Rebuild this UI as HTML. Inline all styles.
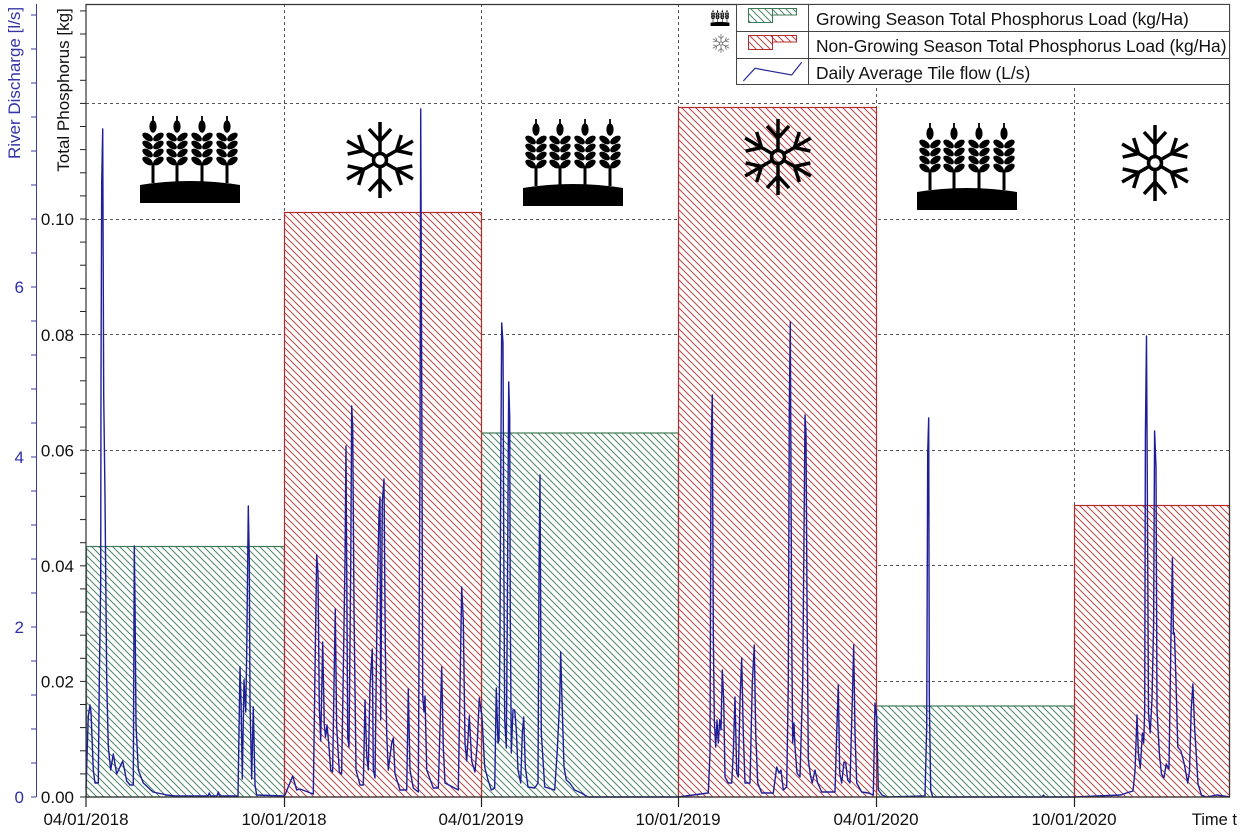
<!DOCTYPE html>
<html>
<head>
<meta charset="utf-8">
<style>
  html,body{margin:0;padding:0;background:#fff;}
  svg{display:block;}
  text{font-family:"Liberation Sans",Arial,sans-serif;}
</style>
</head>
<body>
<svg xmlns="http://www.w3.org/2000/svg" width="1245" height="835" viewBox="0 0 1245 835">
  <defs>
    <pattern id="hg" width="7" height="7" patternUnits="userSpaceOnUse">
      <rect width="7" height="7" fill="#fff"/>
      <path d="M-1,-1 L8,8 M-1,6 L1,8 M6,-1 L8,1" stroke="#4f8868" stroke-width="1"/>
    </pattern>
    <pattern id="hr" width="7" height="7" patternUnits="userSpaceOnUse">
      <rect width="7" height="7" fill="#fff"/>
      <path d="M-1,-1 L8,8 M-1,6 L1,8 M6,-1 L8,1" stroke="#b84848" stroke-width="1"/>
    </pattern>
    <symbol id="wheat" viewBox="0 0 100 90">
      <path d="M0,90 L0,72 Q50,64 100,72 L100,90 Z" fill="#000"/>
      <g id="ear" fill="#000">
        <path d="M13,3 L13,9" stroke="#000" stroke-width="1.8"/>
        <ellipse cx="13" cy="13.5" rx="3.6" ry="6.2"/>
        <ellipse cx="7.6" cy="24" rx="6" ry="3.3" transform="rotate(35 7.6 24)"/>
        <ellipse cx="18.4" cy="24" rx="6" ry="3.3" transform="rotate(-35 18.4 24)"/>
        <ellipse cx="7.6" cy="32" rx="6" ry="3.3" transform="rotate(35 7.6 32)"/>
        <ellipse cx="18.4" cy="32" rx="6" ry="3.3" transform="rotate(-35 18.4 32)"/>
        <ellipse cx="7.6" cy="40" rx="6" ry="3.3" transform="rotate(35 7.6 40)"/>
        <ellipse cx="18.4" cy="40" rx="6" ry="3.3" transform="rotate(-35 18.4 40)"/>
        <ellipse cx="7.6" cy="48" rx="6" ry="3.3" transform="rotate(35 7.6 48)"/>
        <ellipse cx="18.4" cy="48" rx="6" ry="3.3" transform="rotate(-35 18.4 48)"/>
        <rect x="11.5" y="50" width="3" height="20"/>
      </g>
      <use href="#ear" x="24"/>
      <use href="#ear" x="49"/>
      <use href="#ear" x="74"/>
    </symbol>
    <symbol id="snow" viewBox="-40 -40 80 80">
      <g stroke="currentColor" stroke-width="3.5" fill="none">
        <circle cx="0" cy="0" r="6.5"/>
        <g id="arm">
          <path d="M0,-6.5 L0,-38 M0,-19 L-11,-31 M0,-19 L11,-31"/>
        </g>
        <use href="#arm" transform="rotate(60)"/>
        <use href="#arm" transform="rotate(120)"/>
        <use href="#arm" transform="rotate(180)"/>
        <use href="#arm" transform="rotate(240)"/>
        <use href="#arm" transform="rotate(300)"/>
      </g>
    </symbol>
  </defs>

  <rect width="1245" height="835" fill="#fff"/>

  <!-- grid -->
  <g stroke="#555" stroke-width="1" stroke-dasharray="3,3">
    <line x1="86" y1="681.5" x2="1230" y2="681.5"/>
    <line x1="86" y1="565.5" x2="1230" y2="565.5"/>
    <line x1="86" y1="450.5" x2="1230" y2="450.5"/>
    <line x1="86" y1="334.5" x2="1230" y2="334.5"/>
    <line x1="86" y1="219.5" x2="1230" y2="219.5"/>
    <line x1="86" y1="103.5" x2="1230" y2="103.5"/>
    <line x1="284.5" y1="4" x2="284.5" y2="797"/>
    <line x1="481.5" y1="4" x2="481.5" y2="797"/>
    <line x1="678.5" y1="4" x2="678.5" y2="797"/>
    <line x1="876.5" y1="4" x2="876.5" y2="797"/>
    <line x1="1074.5" y1="4" x2="1074.5" y2="797"/>
  </g>

  <!-- bars -->
  <g stroke-width="1.2">
    <rect x="86.5" y="546.5" width="198" height="250.5" fill="url(#hg)" stroke="#3f7a5a"/>
    <rect x="481.5" y="433" width="197" height="364" fill="url(#hg)" stroke="#3f7a5a"/>
    <rect x="876.5" y="706" width="198" height="91" fill="url(#hg)" stroke="#3f7a5a"/>
    <rect x="284.5" y="212.5" width="197" height="584.5" fill="url(#hr)" stroke="#b52a2a"/>
    <rect x="678.5" y="107.5" width="198" height="689.5" fill="url(#hr)" stroke="#b52a2a"/>
    <rect x="1074.5" y="505.5" width="155" height="291.5" fill="url(#hr)" stroke="#b52a2a"/>
  </g>

  <!-- icons -->
  <use href="#wheat" x="140" y="113" width="100" height="90"/>
  <use href="#wheat" x="523" y="116" width="100" height="90"/>
  <use href="#wheat" x="917" y="120" width="100" height="90"/>
  <use href="#snow" x="340" y="120" width="80" height="80" style="color:#000"/>
  <use href="#snow" x="738" y="117" width="80" height="80" style="color:#000"/>
  <use href="#snow" x="1115" y="123" width="80" height="80" style="color:#000"/>

  <!-- series -->
  <polyline fill="none" stroke="#1e1e98" stroke-width="1.4" stroke-linejoin="round" points="
86,788 88.3,716 90,705 91,712 93.3,770 95,783 98.3,783 99.3,680 100.7,580 101,379 101.7,183 102.7,129 103.7,395 105,497 106.7,680 108.3,747 110.7,770 113.3,754 116.7,774 122.7,761 126.7,781 130,785 133.3,785 134.3,546 135,600 136,725 138.3,770 143.3,783 153,792 166.7,795 175,796 208,796 209.3,793 210.5,796 217,796 218.3,792 219.5,796 238,796 240,667 241,700 242.3,779 244,680 245.7,712 246.7,653 248.3,506 249.3,560 250,703 251.7,779 253.3,707 255,785 256.7,795 284,796
285,795 292.7,776 296.7,790 300,789 313.3,794 315,671 316.7,555 318,573 319.3,707 320.7,741 322.7,642 324.3,725 325.6,737 327,725 328.7,743 330.7,770 332.6,772 334.3,667 335.3,609 336.6,725 339.3,772 341.6,774 343.3,671 345,562 346,446 347.7,738 349,747 350.7,569 351.7,406 352.7,426 354,609 356,770 360,785 363.3,785 365,700 366.7,756 368.3,770 370,685 372.3,649 373.3,770 375,778 377.3,591 379,513 380,497 380.7,720 382.3,502 384,479 385.3,645 386.7,734 388.3,770 391.7,743 393.3,738 395,774 400,790 406.7,790 408.3,689 410,770 413.3,788 418.3,792 420,457 420.7,109 421.3,270 422,457 422.7,696 424,712 425,696 426.7,770 433.3,788 438.3,788 441.7,667 443.3,747 445,783 458.3,790 461.7,587 463.3,620 465,743 466.7,761 469.3,716 471.7,761 475,772 477.3,743 479.3,698 481,710
482,717 484.7,767 488,780 491.3,790 494.7,788 496.3,688 498,743 499,740 500,627 500.7,483 501.7,323 503,343 503.7,533 504.7,720 506.3,748 507.3,617 508.7,382 509.7,417 510.3,617 511.3,753 513,710 514.7,710 516.3,730 518,770 520.7,783 522.3,733 523.7,717 525.3,767 528,787 534.7,788 538,783 539,570 540,475 541.3,733 544.7,787 554.7,790 557.3,750 559.7,700 560.7,652 562,700 564,767 566.3,780 569.7,783 574.7,790 581.3,793 588,797 678,797
708.3,793 710,753 711,450 712.3,395 713.3,633 714.3,720 715.7,747 717,720 718.3,743 719.7,720 721,730 722.3,670 723.7,700 725,777 728.3,783 731.7,783 733.3,753 735,697 736.7,773 738.3,777 740,700 741.7,658 743.3,733 745,783 750,783 752.3,683 754.3,645 755.7,733 757.7,783 761.7,793 773.3,793 776.7,767 779,773 781,770 783.3,790 786.7,787 788.3,683 789.3,407 790.3,322 791.7,633 792.7,743 794,723 795,747 797,773 800,777 802.7,683 804.3,500 805,415 806,433 807,600 808.3,760 810.7,777 812.3,783 815,770 817.7,783 821.7,792 835,792 836.7,733 838.3,685 839.7,773 841.7,783 844,762 845.7,763 847.7,780 850,783 852.3,700 853.7,645 855,733 856.7,783 861.7,792 868.3,793 873.3,795 875,703 876.7,717
878.3,790 882,795 886.7,797 925,796 926.7,727 927.7,453 928.7,418 929.3,697 930.7,790 932.7,797 1042,797 1043.5,795 1045,797 1074,797
1121,795 1126.3,793 1133,791 1135,771 1137,715 1138.4,754 1140.3,768 1142.4,733 1143.7,743 1144.7,710 1145.4,435 1146.5,336 1147.5,522 1148.5,713 1150.2,733 1152,699 1153.6,624 1154.6,431 1156,467 1157,710 1159.4,754 1161.5,774 1163.9,778 1166.2,764 1169,769 1171,634 1172.4,558 1173.4,634 1174.4,633 1175.8,675 1177.8,747 1181,751 1184.3,764 1187.7,783 1189.5,771 1191.2,710 1192.9,684 1194.6,727 1198,784 1201.4,795 1206.5,797 1216.8,795 1230,797"/>

  <!-- plot frame -->
  <g stroke="#333" stroke-width="1.2" fill="none">
    <line x1="86" y1="4.5" x2="1230" y2="4.5"/>
    <line x1="1229.5" y1="4" x2="1229.5" y2="797"/>
    <line x1="86" y1="797" x2="1230" y2="797"/>
    <line x1="86" y1="4" x2="86" y2="797"/>
  </g>

  <!-- x ticks -->
  <g stroke="#222" stroke-width="1.2">
    <line x1="86" y1="797" x2="86" y2="807"/>
    <line x1="284.5" y1="797" x2="284.5" y2="807"/>
    <line x1="481.5" y1="797" x2="481.5" y2="807"/>
    <line x1="678.5" y1="797" x2="678.5" y2="807"/>
    <line x1="876.5" y1="797" x2="876.5" y2="807"/>
    <line x1="1074.5" y1="797" x2="1074.5" y2="807"/>
  </g>
  <g font-size="17" fill="#111" text-anchor="middle">
    <text x="86" y="825">04/01/2018</text>
    <text x="284" y="825">10/01/2018</text>
    <text x="481" y="825">04/01/2019</text>
    <text x="678" y="825">10/01/2019</text>
    <text x="876" y="825">04/01/2020</text>
    <text x="1074" y="825">10/01/2020</text>
  </g>
  <text x="1237" y="825" font-size="16.5" fill="#111" text-anchor="end">Time t</text>

  <!-- black left axis ticks -->
  <g stroke="#222" stroke-width="1">
    <line x1="80" y1="797" x2="86" y2="797"/>
    <line x1="80" y1="773.9" x2="86" y2="773.9"/>
    <line x1="80" y1="750.8" x2="86" y2="750.8"/>
    <line x1="80" y1="727.6" x2="86" y2="727.6"/>
    <line x1="80" y1="704.5" x2="86" y2="704.5"/>
    <line x1="80" y1="681.4" x2="86" y2="681.4"/>
    <line x1="80" y1="658.3" x2="86" y2="658.3"/>
    <line x1="80" y1="635.2" x2="86" y2="635.2"/>
    <line x1="80" y1="612" x2="86" y2="612"/>
    <line x1="80" y1="588.9" x2="86" y2="588.9"/>
    <line x1="80" y1="565.8" x2="86" y2="565.8"/>
    <line x1="80" y1="542.7" x2="86" y2="542.7"/>
    <line x1="80" y1="519.6" x2="86" y2="519.6"/>
    <line x1="80" y1="496.4" x2="86" y2="496.4"/>
    <line x1="80" y1="473.3" x2="86" y2="473.3"/>
    <line x1="80" y1="450.2" x2="86" y2="450.2"/>
    <line x1="80" y1="427.1" x2="86" y2="427.1"/>
    <line x1="80" y1="404" x2="86" y2="404"/>
    <line x1="80" y1="380.8" x2="86" y2="380.8"/>
    <line x1="80" y1="357.7" x2="86" y2="357.7"/>
    <line x1="80" y1="334.6" x2="86" y2="334.6"/>
    <line x1="80" y1="311.5" x2="86" y2="311.5"/>
    <line x1="80" y1="288.4" x2="86" y2="288.4"/>
    <line x1="80" y1="265.2" x2="86" y2="265.2"/>
    <line x1="80" y1="242.1" x2="86" y2="242.1"/>
    <line x1="80" y1="219" x2="86" y2="219"/>
    <line x1="80" y1="195.9" x2="86" y2="195.9"/>
    <line x1="80" y1="172.8" x2="86" y2="172.8"/>
    <line x1="80" y1="149.6" x2="86" y2="149.6"/>
    <line x1="80" y1="126.5" x2="86" y2="126.5"/>
    <line x1="80" y1="103.4" x2="86" y2="103.4"/>
    <line x1="80" y1="80.3" x2="86" y2="80.3"/>
    <line x1="80" y1="57.2" x2="86" y2="57.2"/>
    <line x1="80" y1="34" x2="86" y2="34"/>
    <line x1="80" y1="10.9" x2="86" y2="10.9"/>
  </g>
  <g font-size="17" fill="#111" text-anchor="end">
    <text x="74" y="803">0.00</text>
    <text x="74" y="687.5">0.02</text>
    <text x="74" y="572">0.04</text>
    <text x="74" y="456.5">0.06</text>
    <text x="74" y="341">0.08</text>
    <text x="74" y="225">0.10</text>
  </g>

  <!-- blue left axis -->
  <g stroke="#3a3a9e" stroke-width="1">
    <line x1="36.5" y1="4" x2="36.5" y2="797"/>
    <line x1="31" y1="797" x2="36" y2="797"/>
    <line x1="31" y1="763" x2="36" y2="763"/>
    <line x1="31" y1="729" x2="36" y2="729"/>
    <line x1="31" y1="695" x2="36" y2="695"/>
    <line x1="31" y1="661" x2="36" y2="661"/>
    <line x1="31" y1="627" x2="36" y2="627"/>
    <line x1="31" y1="593" x2="36" y2="593"/>
    <line x1="31" y1="559" x2="36" y2="559"/>
    <line x1="31" y1="525" x2="36" y2="525"/>
    <line x1="31" y1="491" x2="36" y2="491"/>
    <line x1="31" y1="457" x2="36" y2="457"/>
    <line x1="31" y1="423" x2="36" y2="423"/>
    <line x1="31" y1="389" x2="36" y2="389"/>
    <line x1="31" y1="355" x2="36" y2="355"/>
    <line x1="31" y1="321" x2="36" y2="321"/>
    <line x1="31" y1="287" x2="36" y2="287"/>
    <line x1="31" y1="253" x2="36" y2="253"/>
    <line x1="31" y1="219" x2="36" y2="219"/>
    <line x1="31" y1="185" x2="36" y2="185"/>
    <line x1="31" y1="151" x2="36" y2="151"/>
    <line x1="31" y1="117" x2="36" y2="117"/>
    <line x1="31" y1="83" x2="36" y2="83"/>
    <line x1="31" y1="49" x2="36" y2="49"/>
    <line x1="31" y1="15" x2="36" y2="15"/>
  </g>
  <g font-size="17" fill="#2e2ea6" text-anchor="end">
    <text x="24" y="803">0</text>
    <text x="24" y="633">2</text>
    <text x="24" y="463">4</text>
    <text x="24" y="293">6</text>
  </g>

  <!-- axis titles -->
  <text font-size="17" fill="#3535a8" text-anchor="middle" transform="translate(20,83) rotate(-90)">River Discharge [l/s]</text>
  <text font-size="17" fill="#111" text-anchor="middle" transform="translate(69,90) rotate(-90)">Total Phosphorus [kg]</text>

  <!-- legend -->
  <use href="#wheat" x="710" y="9" width="20" height="17"/>
  <use href="#snow" x="711" y="33.5" width="20" height="20" style="color:#7a7a7a"/>
  <rect x="736.5" y="4.5" width="493" height="80" fill="#fff" stroke="#444" stroke-width="1"/>
  <line x1="736.5" y1="31.5" x2="1229.5" y2="31.5" stroke="#444"/>
  <line x1="736.5" y1="58.5" x2="1229.5" y2="58.5" stroke="#444"/>
  <line x1="808.5" y1="4.5" x2="808.5" y2="84.5" stroke="#444"/>
  <rect x="748.5" y="8.5" width="24" height="14" fill="url(#hg)" stroke="#3f7a5a"/>
  <rect x="772.5" y="8.5" width="24" height="6.5" fill="url(#hg)" stroke="#3f7a5a"/>
  <rect x="748.5" y="35.5" width="24" height="14" fill="url(#hr)" stroke="#b52a2a"/>
  <rect x="772.5" y="35.5" width="24" height="6.5" fill="url(#hr)" stroke="#b52a2a"/>
  <polyline points="743.3,81 755,68.3 791.7,75 801.7,62.3" fill="none" stroke="#2a2a9a" stroke-width="1.2"/>
  <g font-size="17.4" fill="#111">
    <text x="816" y="25">Growing Season Total Phosphorus Load (kg/Ha)</text>
    <text x="816" y="52">Non-Growing Season Total Phosphorus Load (kg/Ha)</text>
    <text x="816" y="79">Daily Average Tile flow (L/s)</text>
  </g>
</svg>
</body>
</html>
